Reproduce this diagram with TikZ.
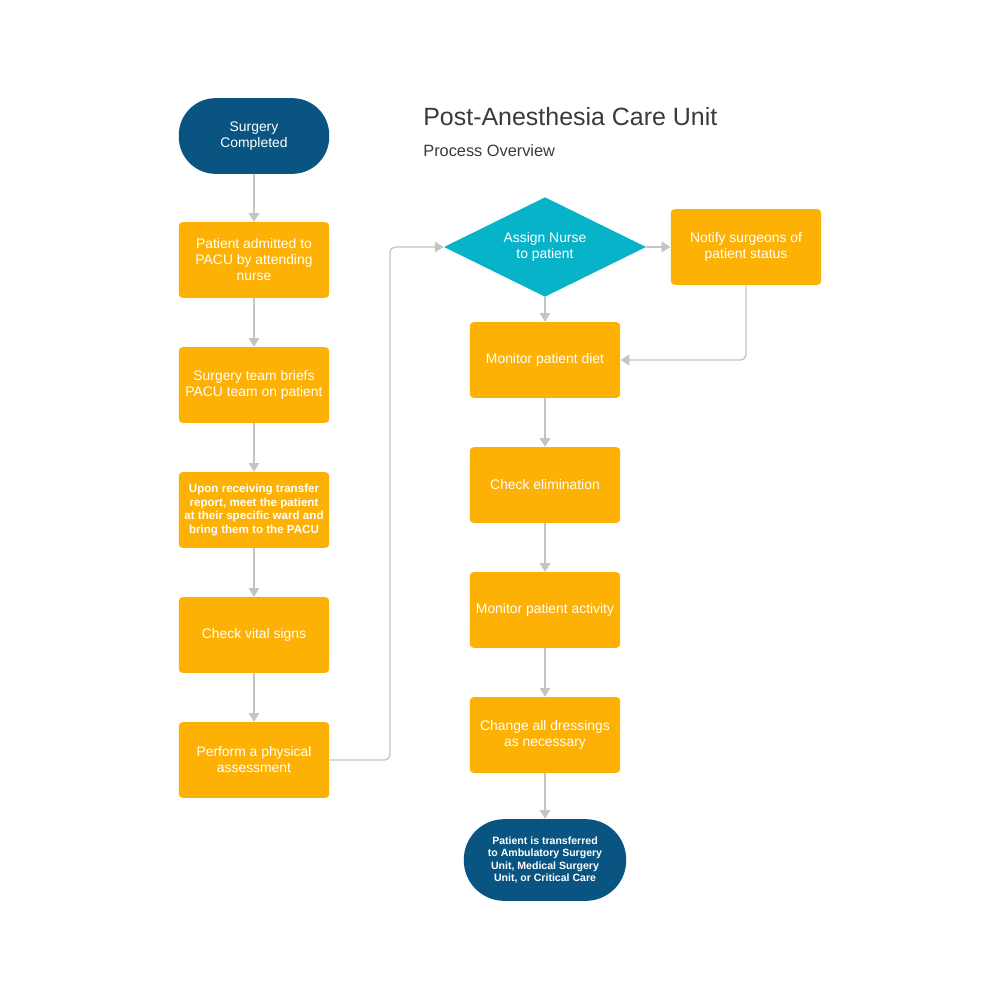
\documentclass[tikz,border=0pt]{standalone}
\usepackage{fontspec}
\setmainfont{Liberation Sans}
\usetikzlibrary{shapes.geometric,arrows.meta}
\definecolor{navy}{HTML}{0A5482}
\definecolor{amber}{HTML}{FDB104}
\definecolor{teal}{HTML}{07B3C9}
\definecolor{conn}{HTML}{C4C4C4}
\definecolor{ttl}{HTML}{3A3A3A}
\begin{document}
\begin{tikzpicture}[x=0.02cm,y=-0.02cm,
  stepbox/.style={fill=amber,rounded corners=2.2pt,minimum width=151*0.567pt,minimum height=76*0.567pt,
    text=white,align=center,font=\fontsize{7.9}{9.1}\selectfont,inner sep=1pt},
  smallbox/.style={stepbox,font=\bfseries\fontsize{6.6}{7.6}\selectfont},
  term/.style={fill=navy,rounded corners=21pt,text=white,align=center,inner sep=1pt},
  decide/.style={fill=teal,diamond,aspect=2.03,minimum width=203*0.567pt,minimum height=100*0.567pt,
    text=white,align=center,font=\fontsize{7.9}{9.1}\selectfont,inner sep=0pt},
  link/.style={draw=conn,line width=0.75pt,-{Triangle[width=6pt,length=5pt]},rounded corners=3pt}]
\useasboundingbox (0,0) rectangle (1000,1000);
\fill[white] (0,0) rectangle (1000,1000);

\node[term,minimum width=151*0.567pt,minimum height=76*0.567pt,font=\fontsize{7.9}{9.1}\selectfont] (start) at (254,136) {Surgery\\Completed};
\node[stepbox] (adm) at (254,260) {Patient admitted to\\PACU by attending\\nurse};
\node[stepbox] (brief) at (254,385) {Surgery team briefs\\PACU team on patient};
\node[smallbox] (meet) at (254,510) {Upon receiving transfer\\report, meet the patient\\at their specific ward and\\bring them to the PACU};
\node[stepbox] (vital) at (254,635) {Check vital signs};
\node[stepbox] (phys) at (254,760) {Perform a physical\\assessment};

\node[decide] (assign) at (545,247) {Assign Nurse\\to patient};
\node[stepbox] (notify) at (746,247) {Notify surgeons of\\patient status};
\node[stepbox] (diet) at (545,360) {Monitor patient diet};
\node[stepbox] (elim) at (545,485) {Check elimination};
\node[stepbox] (act) at (545,610) {Monitor patient activity};
\node[stepbox] (dress) at (545,735) {Change all dressings\\as necessary};
\node[term,rounded corners=23pt,minimum width=163*0.567pt,minimum height=82*0.567pt,font=\bfseries\fontsize{6.0}{7.2}\selectfont] (end) at (545,860) {Patient is transferred\\to Ambulatory Surgery\\Unit, Medical Surgery\\Unit, or Critical Care};

\node[anchor=base west,text=ttl,font=\fontsize{14.2}{16}\selectfont,inner sep=0pt] (title) at (423,126) {Post-Anesthesia Care Unit};
\node[anchor=base west,text=ttl,font=\fontsize{9.3}{10}\selectfont,inner sep=0pt] (sub) at (423,157) {Process Overview};

\draw[link] (start) -- (adm);
\draw[link] (adm) -- (brief);
\draw[link] (brief) -- (meet);
\draw[link] (meet) -- (vital);
\draw[link] (vital) -- (phys);
\draw[link] (phys.east) -- (390,760) -- (390,247) -- (assign.west);
\draw[link] (assign.east) -- (notify.west);
\draw[link] (assign.south) -- (diet.north);
\draw[link] (notify.south) -- (746,360) -- (diet.east);
\draw[link] (diet) -- (elim);
\draw[link] (elim) -- (act);
\draw[link] (act) -- (dress);
\draw[link] (dress) -- (end);
\end{tikzpicture}
\end{document}
